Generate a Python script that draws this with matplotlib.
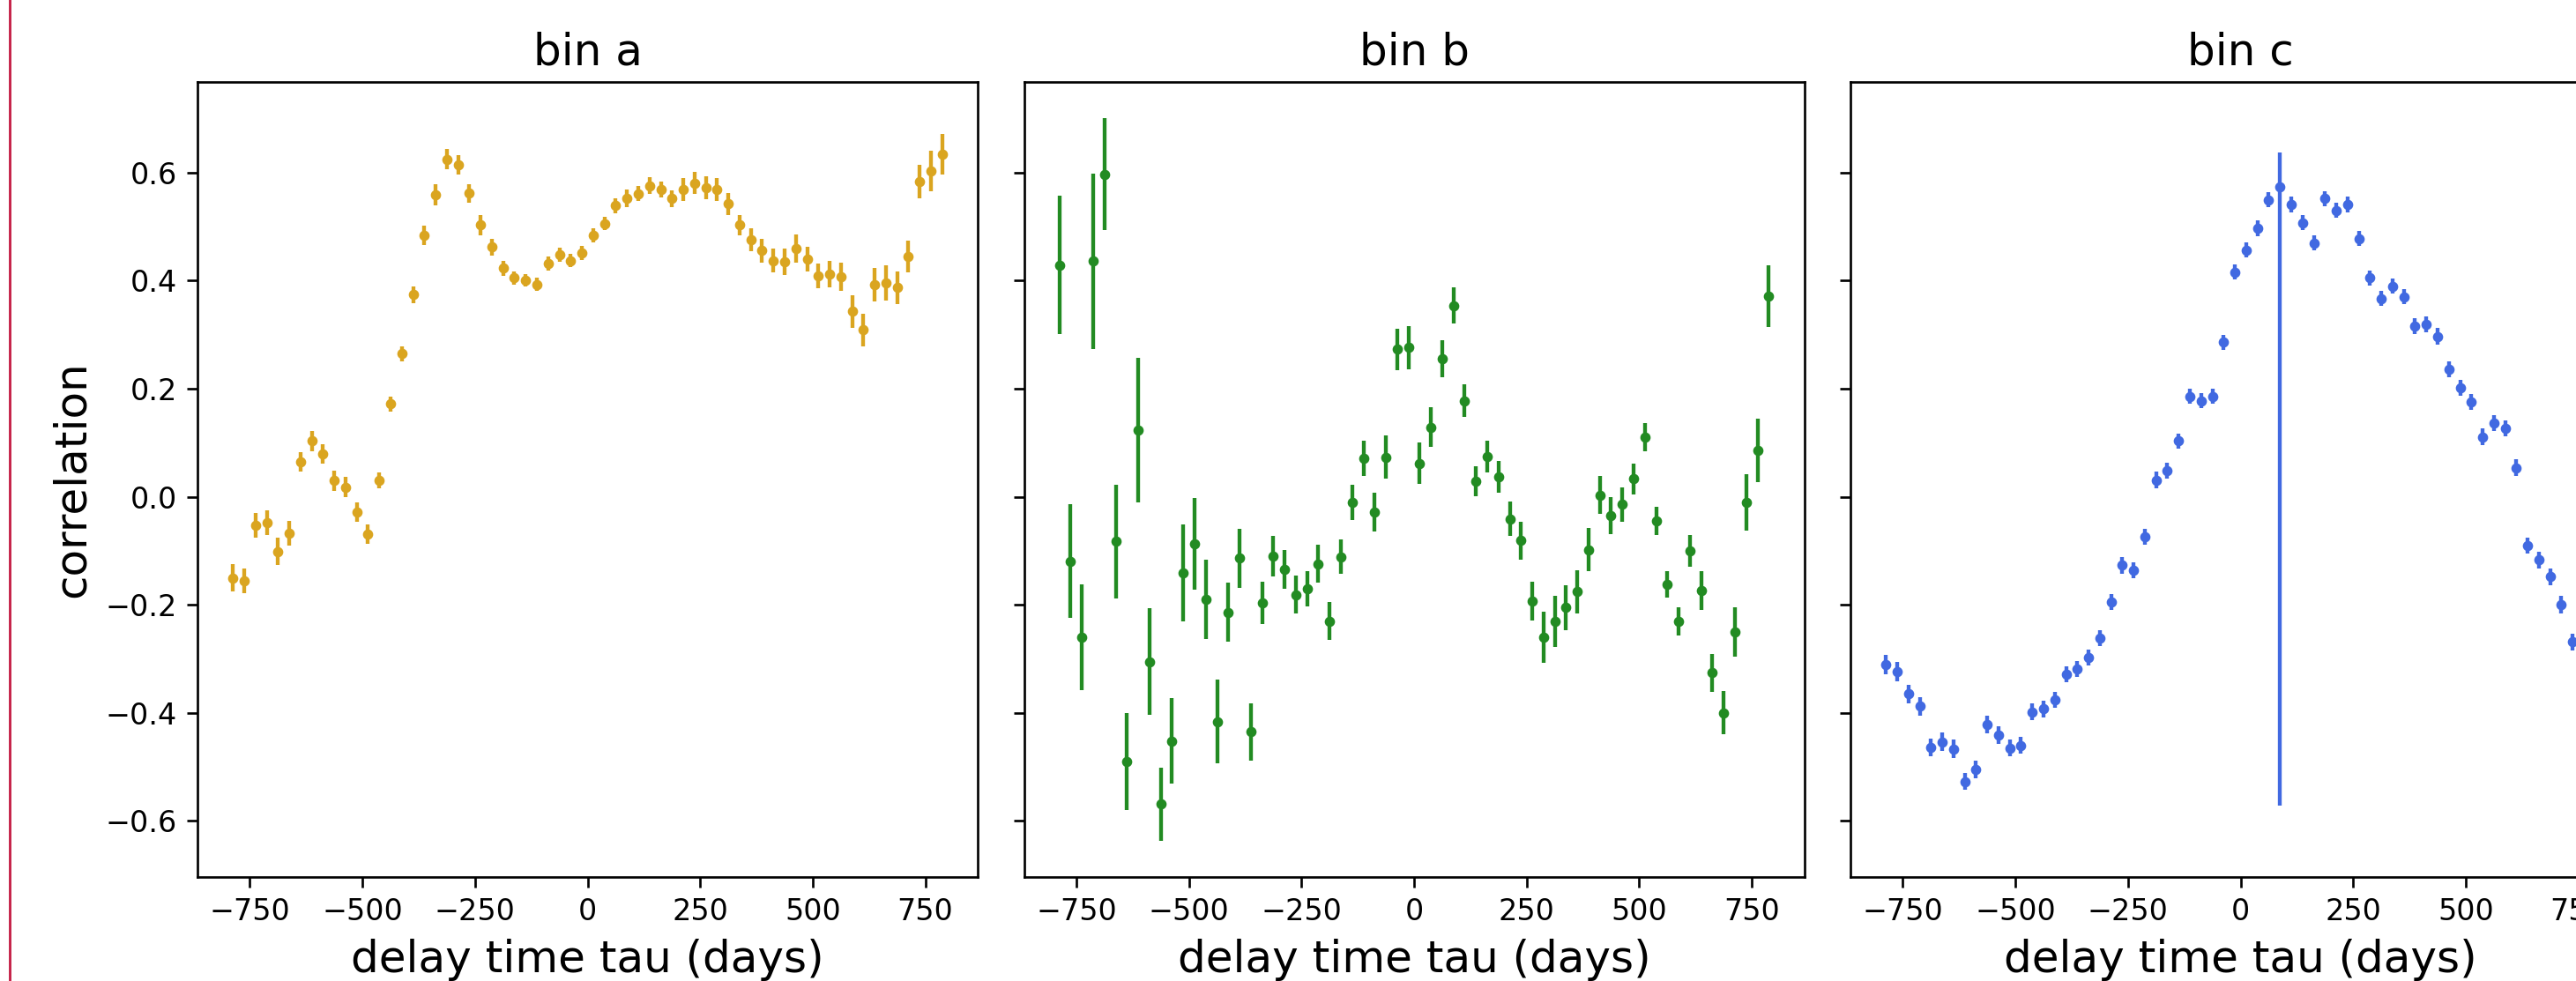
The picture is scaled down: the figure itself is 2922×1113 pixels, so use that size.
import numpy as np
import matplotlib
matplotlib.use("Agg")
import matplotlib.pyplot as plt
from matplotlib.lines import Line2D

# lag grid (days), same for every bin
tau = [-787.5, -762.5, -737.5, -712.5, -687.5, -662.5, -637.5, -612.5, -587.5, -562.5,
       -537.5, -512.5, -487.5, -462.5, -437.5, -412.5, -387.5, -362.5, -337.5, -312.5,
       -287.5, -262.5, -237.5, -212.5, -187.5, -162.5, -137.5, -112.5, -87.5, -62.5,
       -37.5, -12.5, 12.5, 37.5, 62.5, 87.5, 112.5, 137.5, 162.5, 187.5,
       212.5, 237.5, 262.5, 287.5, 312.5, 337.5, 362.5, 387.5, 412.5, 437.5,
       462.5, 487.5, 512.5, 537.5, 562.5, 587.5, 612.5, 637.5, 662.5, 687.5,
       712.5, 737.5, 762.5, 787.5]

a_corr = [-0.150, -0.155, -0.053, -0.048, -0.101, -0.068, 0.064, 0.103, 0.079, 0.030,
          0.018, -0.028, -0.069, 0.030, 0.172, 0.265, 0.374, 0.484, 0.559, 0.625,
          0.614, 0.562, 0.503, 0.462, 0.423, 0.405, 0.401, 0.393, 0.432, 0.448,
          0.437, 0.451, 0.484, 0.506, 0.539, 0.553, 0.561, 0.576, 0.569, 0.552,
          0.569, 0.581, 0.572, 0.569, 0.542, 0.503, 0.476, 0.456, 0.437, 0.435,
          0.459, 0.440, 0.409, 0.412, 0.407, 0.343, 0.309, 0.393, 0.396, 0.387,
          0.445, 0.584, 0.603, 0.634]
a_err = [0.025, 0.023, 0.023, 0.023, 0.025, 0.023, 0.018, 0.018, 0.018, 0.019,
         0.019, 0.018, 0.018, 0.015, 0.014, 0.014, 0.016, 0.018, 0.020, 0.019,
         0.018, 0.017, 0.019, 0.015, 0.014, 0.012, 0.012, 0.012, 0.013, 0.013,
         0.012, 0.013, 0.013, 0.012, 0.014, 0.016, 0.014, 0.015, 0.015, 0.016,
         0.021, 0.021, 0.021, 0.021, 0.020, 0.019, 0.021, 0.022, 0.022, 0.025,
         0.026, 0.023, 0.023, 0.024, 0.026, 0.030, 0.030, 0.031, 0.033, 0.030,
         0.030, 0.031, 0.038, 0.038]

b_corr = [0.429, -0.119, -0.260, 0.436, 0.597, -0.083, -0.490, 0.123, -0.305, -0.569,
          -0.452, -0.141, -0.087, -0.190, -0.416, -0.214, -0.114, -0.435, -0.197, -0.110,
          -0.135, -0.181, -0.170, -0.124, -0.230, -0.111, -0.010, 0.071, -0.029, 0.073,
          0.273, 0.276, 0.062, 0.129, 0.255, 0.354, 0.178, 0.029, 0.074, 0.037,
          -0.041, -0.081, -0.193, -0.260, -0.231, -0.205, -0.176, -0.098, 0.003, -0.035,
          -0.014, 0.033, 0.111, -0.045, -0.162, -0.230, -0.100, -0.173, -0.326, -0.400,
          -0.250, -0.010, 0.086, 0.371]
b_err = [0.128, 0.105, 0.098, 0.163, 0.104, 0.106, 0.090, 0.134, 0.098, 0.068,
         0.079, 0.090, 0.085, 0.074, 0.078, 0.055, 0.054, 0.053, 0.039, 0.037,
         0.036, 0.035, 0.033, 0.035, 0.035, 0.032, 0.033, 0.033, 0.036, 0.040,
         0.038, 0.040, 0.038, 0.037, 0.034, 0.033, 0.030, 0.028, 0.029, 0.029,
         0.032, 0.035, 0.036, 0.048, 0.047, 0.042, 0.040, 0.040, 0.035, 0.034,
         0.032, 0.029, 0.026, 0.026, 0.025, 0.026, 0.030, 0.036, 0.035, 0.040,
         0.046, 0.052, 0.059, 0.057]

c_corr = [-0.310, -0.324, -0.365, -0.388, -0.464, -0.454, -0.467, -0.527, -0.505, -0.422,
          -0.441, -0.465, -0.460, -0.398, -0.393, -0.376, -0.329, -0.319, -0.298, -0.262,
          -0.195, -0.127, -0.136, -0.074, 0.031, 0.048, 0.103, 0.186, 0.178, 0.186,
          0.286, 0.416, 0.457, 0.497, 0.550, 0.573, 0.541, 0.507, 0.470, 0.552,
          0.530, 0.541, 0.478, 0.405, 0.367, 0.390, 0.370, 0.316, 0.319, 0.297,
          0.236, 0.202, 0.176, 0.111, 0.136, 0.127, 0.054, -0.090, -0.117, -0.148,
          -0.200, -0.269, -0.310, -0.350]
# bin c has one lag (87.5 d) with a badly constrained, lopsided error
c_err_lo = [0.018, 0.018, 0.017, 0.017, 0.017, 0.017, 0.017, 0.016, 0.016, 0.016,
            0.016, 0.016, 0.016, 0.015, 0.015, 0.015, 0.015, 0.015, 0.015, 0.015,
            0.015, 0.015, 0.015, 0.015, 0.015, 0.015, 0.014, 0.014, 0.014, 0.014,
            0.014, 0.014, 0.014, 0.014, 0.014, 1.144, 0.014, 0.014, 0.014, 0.014,
            0.014, 0.014, 0.014, 0.014, 0.014, 0.014, 0.014, 0.015, 0.015, 0.015,
            0.015, 0.015, 0.015, 0.015, 0.015, 0.015, 0.015, 0.015, 0.016, 0.016,
            0.016, 0.016, 0.017, 0.017]
c_err_hi = [0.018, 0.018, 0.017, 0.017, 0.017, 0.017, 0.017, 0.016, 0.016, 0.016,
            0.016, 0.016, 0.016, 0.015, 0.015, 0.015, 0.015, 0.015, 0.015, 0.015,
            0.015, 0.015, 0.015, 0.015, 0.015, 0.015, 0.014, 0.014, 0.014, 0.014,
            0.014, 0.014, 0.014, 0.014, 0.014, 0.065, 0.014, 0.014, 0.014, 0.014,
            0.014, 0.014, 0.014, 0.014, 0.014, 0.014, 0.014, 0.015, 0.015, 0.015,
            0.015, 0.015, 0.015, 0.015, 0.015, 0.015, 0.015, 0.015, 0.016, 0.016,
            0.016, 0.016, 0.017, 0.017]

bins = ["bin a", "bin b", "bin c"]
colors = ["goldenrod", "forestgreen", "royalblue"]

fig = plt.figure(figsize=(2922 / 240, 1113 / 240), dpi=240)

# third panel runs off the right edge, like the original screenshot
lefts = [224 / 2922, 1161.5 / 2922, 2099 / 2922]
w = 885 / 2922
bottom = 118 / 1113
h = 902 / 1113

ax_a = fig.add_axes([lefts[0], bottom, w, h])
ax_b = fig.add_axes([lefts[1], bottom, w, h], sharey=ax_a)
ax_c = fig.add_axes([lefts[2], bottom, w, h], sharey=ax_a)
axes = [ax_a, ax_b, ax_c]

ax_a.errorbar(tau, a_corr, yerr=a_err, fmt=".", color=colors[0],
              markersize=5, elinewidth=1.3)
ax_b.errorbar(tau, b_corr, yerr=b_err, fmt=".", color=colors[1],
              markersize=5, elinewidth=1.3)
ax_c.errorbar(tau, c_corr, yerr=[c_err_lo, c_err_hi], fmt=".", color=colors[2],
              markersize=5, elinewidth=1.3)

for ax, name in zip(axes, bins):
    ax.set_title(name, fontsize=15)
    ax.set_xlabel("delay time tau (days)", fontsize=15)
    ax.set_xticks([-750, -500, -250, 0, 250, 500, 750])
for ax in axes[1:]:
    ax.tick_params(labelleft=False)
ax_a.set_ylabel("correlation", fontsize=15)
ax_a.set_yticks([-0.6, -0.4, -0.2, 0.0, 0.2, 0.4, 0.6])

# red edge line from the screenshot
fig.add_artist(Line2D([11.3 / 2922, 11.3 / 2922], [0, 1], transform=fig.transFigure,
                      color="#C41E45", linewidth=0.85))

fig.savefig("out.png", dpi=240)
